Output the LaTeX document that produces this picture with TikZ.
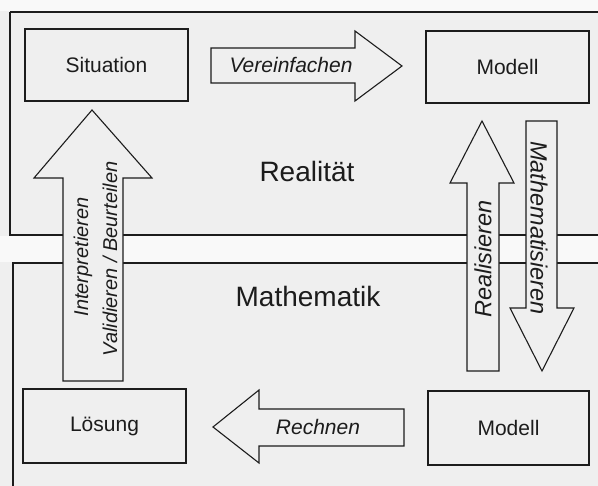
\documentclass[tikz,border=0pt]{standalone}
\usepackage{fontspec}
\setmainfont{Liberation Sans}
\definecolor{paper}{HTML}{EFEFEF}
\definecolor{ink}{HTML}{1C1C1C}
\begin{document}
\begin{tikzpicture}[x=1pt,y=-1pt,
  frame/.style={draw=ink,line width=1.3pt},
  boxnode/.style={draw=ink,line width=1.3pt,rectangle,inner sep=0pt,text=ink,
    font=\fontsize{21}{25}\selectfont},
  bigarrow/.style={draw=ink,line width=1.1pt,fill=paper,line join=miter},
  arrtext/.style={text=ink,inner sep=0pt,font=\fontsize{21}{25}\selectfont\itshape},
  vtext/.style={text=ink,inner sep=0pt,font=\fontsize{20}{24}\selectfont\itshape},
  vtextr/.style={text=ink,inner sep=0pt,font=\fontsize{23.5}{28}\selectfont\itshape},
  title/.style={text=ink,inner sep=0pt,font=\fontsize{28}{32}\selectfont}]
\useasboundingbox (0,0) rectangle (598,486);
\clip (0,0) rectangle (598,486);
\fill[paper] (0,0) rectangle (598,486);
\fill[white!60!paper] (0,0) rectangle (598,11);
\fill[white!60!paper] (0,236) rectangle (598,262);
% frames
\draw[frame] (10,12) -- (610,12);
\draw[frame] (10,12) -- (10,235) -- (610,235);
\draw[frame] (13,500) -- (13,263) -- (610,263);
% titles
\node[title] (real) at (307,171) {Realität};
\node[title] (math) at (308,296) {Mathematik};
% boxes
\node[boxnode,minimum width=163pt,minimum height=72pt] (sit) at (106.5,65) {Situation};
\node[boxnode,minimum width=163pt,minimum height=72pt] (mod1) at (507.5,67) {Modell};
\node[boxnode,minimum width=163pt,minimum height=74pt] (loes) at (104.5,426) {Lösung};
\node[boxnode,minimum width=161pt,minimum height=74pt] (mod2) at (508.5,428) {Modell};
% arrows
\draw[bigarrow] (211,48) -- (355,48) -- (355,31) -- (402,66) -- (355,101) -- (355,83) -- (211,83) -- cycle;
\draw[bigarrow] (404,409) -- (259,409) -- (259,390) -- (213,427) -- (259,463) -- (259,446) -- (404,446) -- cycle;
\draw[bigarrow] (63,381) -- (63,178) -- (34,178) -- (92,110) -- (152,178) -- (123,178) -- (123,381) -- cycle;
\draw[bigarrow] (467,371) -- (467,183) -- (450,183) -- (482,121) -- (514,183) -- (499,183) -- (499,371) -- cycle;
\draw[bigarrow] (526,121) -- (557,121) -- (557,308) -- (574,308) -- (542,371) -- (510,308) -- (526,308) -- cycle;
% arrow labels
\node[arrtext] (verein) at (291,65) {Vereinfachen};
\node[arrtext] (rech) at (318,427) {Rechnen};
\node[vtext,rotate=90] (interp) at (83,257) {Interpretieren};
\node[vtext,rotate=90] (valid) at (110,259) {Validieren / Beurteilen};
\node[vtextr,rotate=90] (realis) at (483,259) {Realisieren};
\node[vtextr,rotate=-90] (mathem) at (539,228) {Mathematisieren};
\end{tikzpicture}
\end{document}
